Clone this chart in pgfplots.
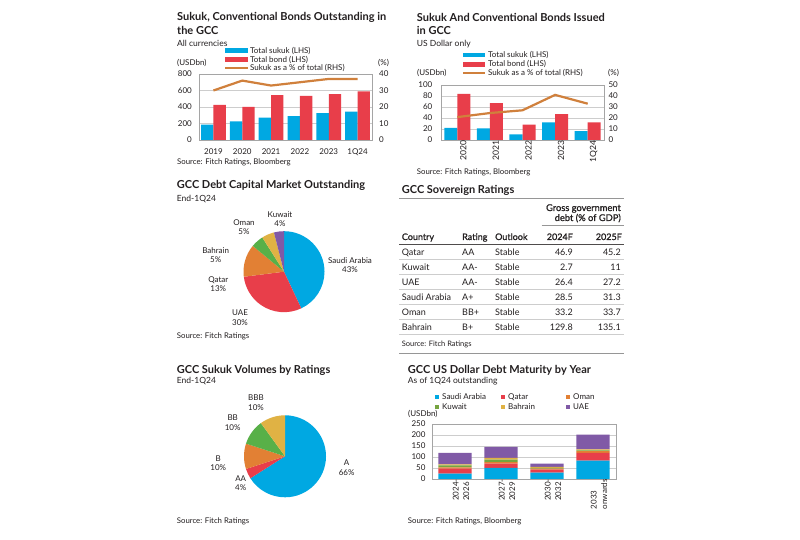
\documentclass[border=0pt]{standalone}
\usepackage{fontspec}
\setmainfont{Lato}
\newfontfamily\semib{Lato}[FakeBold=1]
\usepackage{pgfplots}
\pgfplotsset{compat=1.18}
\definecolor{txt}{RGB}{35,31,32}
\definecolor{cblue}{RGB}{0,168,226}
\definecolor{cred}{RGB}{232,62,74}
\definecolor{corange}{RGB}{226,128,52}
\definecolor{cgreen}{RGB}{88,176,72}
\definecolor{colive}{RGB}{118,164,64}
\definecolor{cgold}{RGB}{224,178,68}
\definecolor{cpurple}{RGB}{128,90,166}
\definecolor{cline}{RGB}{208,128,60}
\definecolor{gridc}{RGB}{205,205,205}
\definecolor{framec}{RGB}{165,165,165}
\definecolor{rulec}{RGB}{150,150,150}
\newcommand\ttl{\fontsize{11}{13}\bfseries\selectfont}
\newcommand\sub{\fontsize{8.5}{10}\selectfont}
\newcommand\sml{\fontsize{8}{9.5}\selectfont}
\newcommand\src{\fontsize{7.8}{9}\selectfont}
\newcommand\tbl{\fontsize{9}{11}\selectfont}
\newcommand\slice[4]{\fill[#3] (axis cs:0,0) -- (axis cs:{cos(90-3.6*(#1))},{sin(90-3.6*(#1))}) arc[start angle={90-3.6*(#1)}, end angle={90-3.6*(#1+#2)}, radius=#4] -- cycle;}
\pgfplotsset{
  panel/.style={scale only axis, anchor=south west, major tick length=0pt,
    ymajorgrids, grid style={draw=gridc, line width=0.4pt},
    axis line style={draw=framec, line width=0.5pt},
    tick label style={font=\sml, text=txt, inner sep=0pt}, ymin=0,
    /pgf/number format/assume math mode=true},
  pie/.style={anchor=center, hide axis, scale only axis, xmin=-1, xmax=1, ymin=-1, ymax=1}
}
\begin{document}
\begin{tikzpicture}[every node/.style={text=txt, inner sep=0pt}]
\path[fill=white] (0pt,0pt) rectangle (800pt,540pt);
\useasboundingbox (0pt,0pt) rectangle (800pt,540pt);

% ---------------- Panel 1 ----------------
\node[anchor=base west, font=\ttl] at (177pt,519pt) {Sukuk, Conventional Bonds Outstanding in};
\node[anchor=base west, font=\ttl] at (177pt,505pt) {the GCC};
\node[anchor=base west, font=\sub] at (177pt,493.5pt) {All currencies};
\fill[cblue] (225pt,486.7pt) rectangle (248pt,492.3pt);
\node[anchor=west, font=\sml] at (250pt,489.5pt) {Total sukuk (LHS)};
\fill[cred] (225pt,477.7pt) rectangle (248pt,483.3pt);
\node[anchor=west, font=\sml] at (250pt,480.5pt) {Total bond (LHS)};
\draw[cline, line width=2.2pt] (225pt,471.7pt) -- (248pt,471.7pt);
\node[anchor=west, font=\sml] at (250pt,471.7pt) {Sukuk as a \% of total (RHS)};
\node[anchor=west, font=\sml] at (177pt,477.3pt) {(USDbn)};
\node[anchor=west, font=\sml] at (378pt,477.3pt) {(\%)};
\begin{axis}[panel, at={(199pt,400pt)}, width=173pt, height=66pt,
  xmin=-0.5, xmax=5.5, ymax=800, ytick={0,200,400,600,800},
  xtick={0,...,5}, xticklabels={2019,2020,2021,2022,2023,1Q24},
  yticklabel style={xshift=-7pt}, xticklabel style={yshift=-8.3pt}]
\addplot[ybar, bar width=0.43, bar shift=-0.215, fill=cblue, draw=none] coordinates {(0,185) (1,225) (2,270) (3,290) (4,325) (5,345)};
\addplot[ybar, bar width=0.43, bar shift=0.215, fill=cred, draw=none] coordinates {(0,425) (1,400) (2,545) (3,535) (4,555) (5,590)};
\end{axis}
\begin{axis}[panel, at={(199pt,400pt)}, width=173pt, height=66pt,
  xmin=-0.5, xmax=5.5, ymax=40, ytick={0,10,20,30,40}, ymajorgrids=false,
  axis y line*=right, axis x line=none, yticklabel style={xshift=7pt}]
\addplot[cline, line width=2.2pt, mark=none] coordinates {(0,30) (1,36) (2,33) (3,35) (4,37) (5,37)};
\end{axis}
\node[anchor=base west, font=\src] at (177pt,375pt) {Source: Fitch Ratings, Bloomberg};

% ---------------- Panel 2 ----------------
\node[anchor=base west, font=\ttl] at (416.7pt,518.3pt) {Sukuk And Conventional Bonds Issued};
\node[anchor=base west, font=\ttl] at (416.7pt,505pt) {in GCC};
\node[anchor=base west, font=\sub] at (416.7pt,493.3pt) {US Dollar only};
\fill[cblue] (463pt,482.5pt) rectangle (485pt,487.1pt);
\node[anchor=west, font=\sml] at (488pt,484.8pt) {Total sukuk (LHS)};
\fill[cred] (463pt,473.4pt) rectangle (485pt,478pt);
\node[anchor=west, font=\sml] at (488pt,475.7pt) {Total bond (LHS)};
\draw[cline, line width=2.2pt] (463pt,467.3pt) -- (485pt,467.3pt);
\node[anchor=west, font=\sml] at (488pt,467.3pt) {Sukuk as a \% of total (RHS)};
\node[anchor=west, font=\sml] at (417pt,467.3pt) {(USDbn)};
\node[anchor=west, font=\sml] at (608pt,467.3pt) {(\%)};
\begin{axis}[panel, at={(441pt,400pt)}, width=163pt, height=55pt,
  xmin=-0.5, xmax=4.5, ymax=100, ytick={0,20,40,60,80,100},
  xtick={0,...,4}, xticklabels={2020,2021,2022,2023,1Q24},
  xticklabel style={rotate=90, anchor=east, yshift=-6pt, font=\fontsize{8.6}{10}\selectfont},
  yticklabel style={xshift=-8.5pt}]
\addplot[ybar, bar width=0.40, bar shift=-0.20, fill=cblue, draw=none] coordinates {(0,22) (1,21) (2,10) (3,32) (4,16)};
\addplot[ybar, bar width=0.40, bar shift=0.20, fill=cred, draw=none] coordinates {(0,84) (1,67) (2,28) (3,47) (4,32)};
\end{axis}
\begin{axis}[panel, at={(441pt,400pt)}, width=163pt, height=55pt,
  xmin=-0.5, xmax=4.5, ymax=50, ytick={0,10,20,30,40,50}, ymajorgrids=false,
  axis y line*=right, axis x line=none, yticklabel style={xshift=4.3pt}]
\addplot[cline, line width=2.2pt, mark=none] coordinates {(0,20.8) (1,24.5) (2,27) (3,41) (4,33)};
\end{axis}
\node[anchor=base west, font=\src] at (416.7pt,365pt) {Source: Fitch Ratings, Bloomberg};

% ---------------- Panel 3 (pie) ----------------
\node[anchor=base west, font=\ttl] at (176.7pt,351.7pt) {GCC Debt Capital Market Outstanding};
\node[anchor=base west, font=\sub] at (176.7pt,338pt) {End-1Q24};
\begin{axis}[pie, at={(284pt,268.3pt)}, x=40.5pt, y=40.5pt]
\slice{0}{43}{cblue}{40.5pt}
\slice{43}{30}{cred}{40.5pt}
\slice{73}{13}{corange}{40.5pt}
\slice{86}{5}{cgreen}{40.5pt}
\slice{91}{5}{cgold}{40.5pt}
\slice{96}{4}{cpurple}{40.5pt}
\end{axis}
\begin{scope}[every node/.style={text=txt, inner sep=0pt, align=center, font=\sml}]
\node at (350pt,274.7pt) {Saudi Arabia\\43\%};
\node at (240pt,222.3pt) {UAE\\30\%};
\node at (218.3pt,256pt) {Qatar\\13\%};
\node at (215.7pt,284.7pt) {Bahrain\\5\%};
\node at (244pt,313pt) {Oman\\5\%};
\node at (280pt,321pt) {Kuwait\\4\%};
\end{scope}
\node[anchor=base west, font=\src] at (176.7pt,201pt) {Source: Fitch Ratings};

% ---------------- Panel 4 (table) ----------------
\node[anchor=base west, font=\ttl] at (401.7pt,346.7pt) {GCC Sovereign Ratings};
\draw[rulec, line width=0.5pt] (399pt,341.7pt) -- (624pt,341.7pt);
\node[anchor=base east, font=\fontsize{9.3}{11}\selectfont\semib] at (621pt,329pt) {Gross government};
\node[anchor=base east, font=\fontsize{9.3}{11}\selectfont\semib] at (621pt,319pt) {debt (\% of GDP)};
\draw[rulec, line width=0.5pt] (541.7pt,315pt) -- (624pt,315pt);
\node[anchor=base west, font=\tbl\semib] at (401.7pt,300pt) {Country};
\node[anchor=base west, font=\tbl\semib] at (462pt,300pt) {Rating};
\node[anchor=base west, font=\tbl\semib] at (495pt,300pt) {Outlook};
\node[anchor=base east, font=\tbl\semib] at (573pt,300pt) {2024F};
\node[anchor=base east, font=\tbl\semib] at (622pt,300pt) {2025F};
\draw[txt!80, line width=0.6pt] (399pt,296pt) -- (624pt,296pt);
\foreach \yy in {280.7,265.7,250.7,235.7,220.7,205.7}
  \draw[gridc, line width=0.5pt] (399pt,\yy pt) -- (624pt,\yy pt);
\draw[rulec, line width=0.6pt] (399pt,186.7pt) -- (624pt,186.7pt);
\begin{scope}[every node/.style={text=txt, inner sep=0pt, font=\tbl}]
\node[anchor=base west] at (401.7pt,284.5pt) {Qatar};
\node[anchor=base west] at (462pt,284.5pt) {AA};
\node[anchor=base west] at (495pt,284.5pt) {Stable};
\node[anchor=base east] at (573pt,284.5pt) {46.9};
\node[anchor=base east] at (621pt,284.5pt) {45.2};
\node[anchor=base west] at (401.7pt,269.5pt) {Kuwait};
\node[anchor=base west] at (462pt,269.5pt) {AA-};
\node[anchor=base west] at (495pt,269.5pt) {Stable};
\node[anchor=base east] at (573pt,269.5pt) {2.7};
\node[anchor=base east] at (621pt,269.5pt) {11};
\node[anchor=base west] at (401.7pt,254.5pt) {UAE};
\node[anchor=base west] at (462pt,254.5pt) {AA-};
\node[anchor=base west] at (495pt,254.5pt) {Stable};
\node[anchor=base east] at (573pt,254.5pt) {26.4};
\node[anchor=base east] at (621pt,254.5pt) {27.2};
\node[anchor=base west] at (401.7pt,239.5pt) {Saudi Arabia};
\node[anchor=base west] at (462pt,239.5pt) {A+};
\node[anchor=base west] at (495pt,239.5pt) {Stable};
\node[anchor=base east] at (573pt,239.5pt) {28.5};
\node[anchor=base east] at (621pt,239.5pt) {31.3};
\node[anchor=base west] at (401.7pt,224.5pt) {Oman};
\node[anchor=base west] at (462pt,224.5pt) {BB+};
\node[anchor=base west] at (495pt,224.5pt) {Stable};
\node[anchor=base east] at (573pt,224.5pt) {33.2};
\node[anchor=base east] at (621pt,224.5pt) {33.7};
\node[anchor=base west] at (401.7pt,209.5pt) {Bahrain};
\node[anchor=base west] at (462pt,209.5pt) {B+};
\node[anchor=base west] at (495pt,209.5pt) {Stable};
\node[anchor=base east] at (573pt,209.5pt) {129.8};
\node[anchor=base east] at (621pt,209.5pt) {135.1};
\end{scope}
\node[anchor=base west, font=\fontsize{7.5}{9}\selectfont] at (401.7pt,193.5pt) {Source: Fitch Ratings};

% ---------------- Panel 5 (pie) ----------------
\node[anchor=base west, font=\ttl] at (176.7pt,166.7pt) {GCC Sukuk Volumes by Ratings};
\node[anchor=base west, font=\sub] at (176.7pt,156pt) {End-1Q24};
\begin{axis}[pie, at={(285pt,83.7pt)}, x=41pt, y=41pt]
\slice{0}{66}{cblue}{41pt}
\slice{66}{4}{cred}{41pt}
\slice{70}{10}{corange}{41pt}
\slice{80}{10}{cgreen}{41pt}
\slice{90}{10}{cgold}{41pt}
\end{axis}
\begin{scope}[every node/.style={text=txt, inner sep=0pt, align=center, font=\sml}]
\node at (346.7pt,72.2pt) {A\\66\%};
\node at (240.7pt,57pt) {AA\\4\%};
\node at (218.3pt,76.7pt) {B\\10\%};
\node at (232.7pt,117.3pt) {BB\\10\%};
\node at (256pt,137.5pt) {BBB\\10\%};
\end{scope}
\node[anchor=base west, font=\src] at (176.7pt,16.5pt) {Source: Fitch Ratings};

% ---------------- Panel 6 (stacked) ----------------
\node[anchor=base west, font=\ttl] at (407.7pt,166.7pt) {GCC US Dollar Debt Maturity by Year};
\node[anchor=base west, font=\sub] at (407.7pt,156.7pt) {As of 1Q24 outstanding};
\fill[cblue] (435pt,140.8pt) rectangle (439.4pt,145.2pt);
\node[anchor=west, font=\sml] at (442pt,143pt) {Saudi Arabia};
\fill[cred] (501pt,140.8pt) rectangle (505.4pt,145.2pt);
\node[anchor=west, font=\sml] at (508pt,143pt) {Qatar};
\fill[corange] (566pt,140.8pt) rectangle (570.4pt,145.2pt);
\node[anchor=west, font=\sml] at (573pt,143pt) {Oman};
\fill[colive] (435pt,130.8pt) rectangle (439.4pt,135.2pt);
\node[anchor=west, font=\sml] at (442pt,133pt) {Kuwait};
\fill[cgold] (501pt,130.8pt) rectangle (505.4pt,135.2pt);
\node[anchor=west, font=\sml] at (508pt,133pt) {Bahrain};
\fill[cpurple] (566pt,130.8pt) rectangle (570.4pt,135.2pt);
\node[anchor=west, font=\sml] at (573pt,133pt) {UAE};
\node[anchor=west, font=\sml] at (408pt,126pt) {(USDbn)};
\begin{axis}[panel, at={(432pt,61pt)}, width=184pt, height=55pt,
  xmin=-0.5, xmax=3.5, ymax=250, ytick={0,50,100,150,200,250},
  ybar stacked, bar width=0.72,
  xtick={0,1,2,3}, xticklabels={{2024-\\2026},{2027-\\2029},{2030-\\2032},{2033\\onwards}},
  xticklabel style={rotate=90, anchor=east, align=left, yshift=-6pt, font=\fontsize{8}{10.5}\selectfont},
  yticklabel style={xshift=-6.3pt}]
\addplot[fill=cblue, draw=none] coordinates {(0,24) (1,50) (2,29) (3,84)};
\addplot[fill=cred, draw=none] coordinates {(0,23) (1,20) (2,14) (3,35)};
\addplot[fill=corange, draw=none] coordinates {(0,6) (1,7) (2,4) (3,8)};
\addplot[fill=colive, draw=none] coordinates {(0,9) (1,11) (2,3) (3,3)};
\addplot[fill=cgold, draw=none] coordinates {(0,5) (1,8) (2,5) (3,5)};
\addplot[fill=cpurple, draw=none] coordinates {(0,52) (1,50) (2,15) (3,67)};
\end{axis}
\node[anchor=base west, font=\src] at (407.7pt,16.5pt) {Source: Fitch Ratings, Bloomberg};
\end{tikzpicture}
\end{document}
